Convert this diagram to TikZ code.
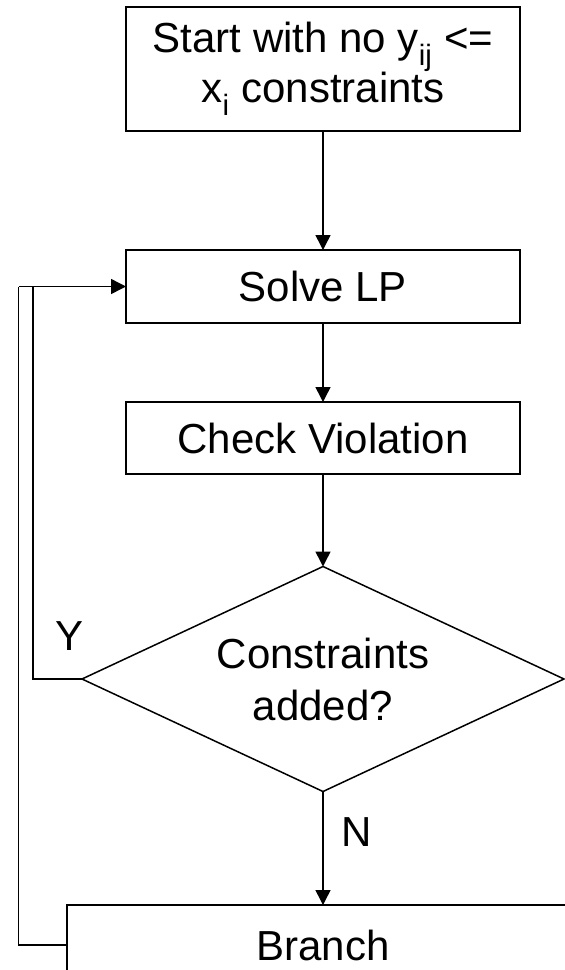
\documentclass[tikz,border=0pt]{standalone}
\usepackage{fontspec}
\setmainfont{Liberation Sans}
\usetikzlibrary{shapes.geometric,arrows.meta}

\begin{document}
\begin{tikzpicture}[x=1pt,y=-1pt,line width=1.5pt,
  box/.style={draw, rectangle, minimum width=394pt, inner sep=0pt, outer sep=0pt, align=center, font=\fontsize{42}{40}\selectfont},
  decision/.style={draw, diamond, aspect=2.15, minimum width=482pt, minimum height=225pt, inner sep=0pt, outer sep=0pt, align=center, font=\fontsize{42}{52}\selectfont},
  lab/.style={inner sep=0pt, font=\fontsize{42}{42}\selectfont},
  arr/.style={-{Triangle[length=15pt,width=15pt]}}]
\path[use as bounding box, clip] (0,0) rectangle (565,970);

\node[box, minimum height=124pt] (start) at (323,69) {Start with no y\textsubscript{ij} <=\\x\textsubscript{i} constraints};
\node[box, minimum height=73pt] (solve) at (323,286.5) {Solve LP};
\node[box, minimum height=72pt] (check) at (323,438) {Check Violation};
\node[decision] (dec) at (323,679) {Constraints\\added?};
\node[box, minimum width=512pt, minimum height=80pt] (branch) at (323,945) {Branch};

\node[lab] (ylab) at (70,636.5) {Y};
\node[lab] (nlab) at (357,832.5) {N};

\coordinate (jin) at (33,286.5);
\coordinate (jout) at (18.5,286.5);

\draw[arr] (start.south) -- (solve.north);
\draw[arr] (solve.south) -- (check.north);
\draw[arr] (check.south) -- (dec.north);
\draw[arr] (dec.south) -- (branch.north);
\draw (dec.west) -| (jin);
\draw (branch.west) -| (jout);
\draw[arr] (jout) -- (solve.west);
\end{tikzpicture}
\end{document}
